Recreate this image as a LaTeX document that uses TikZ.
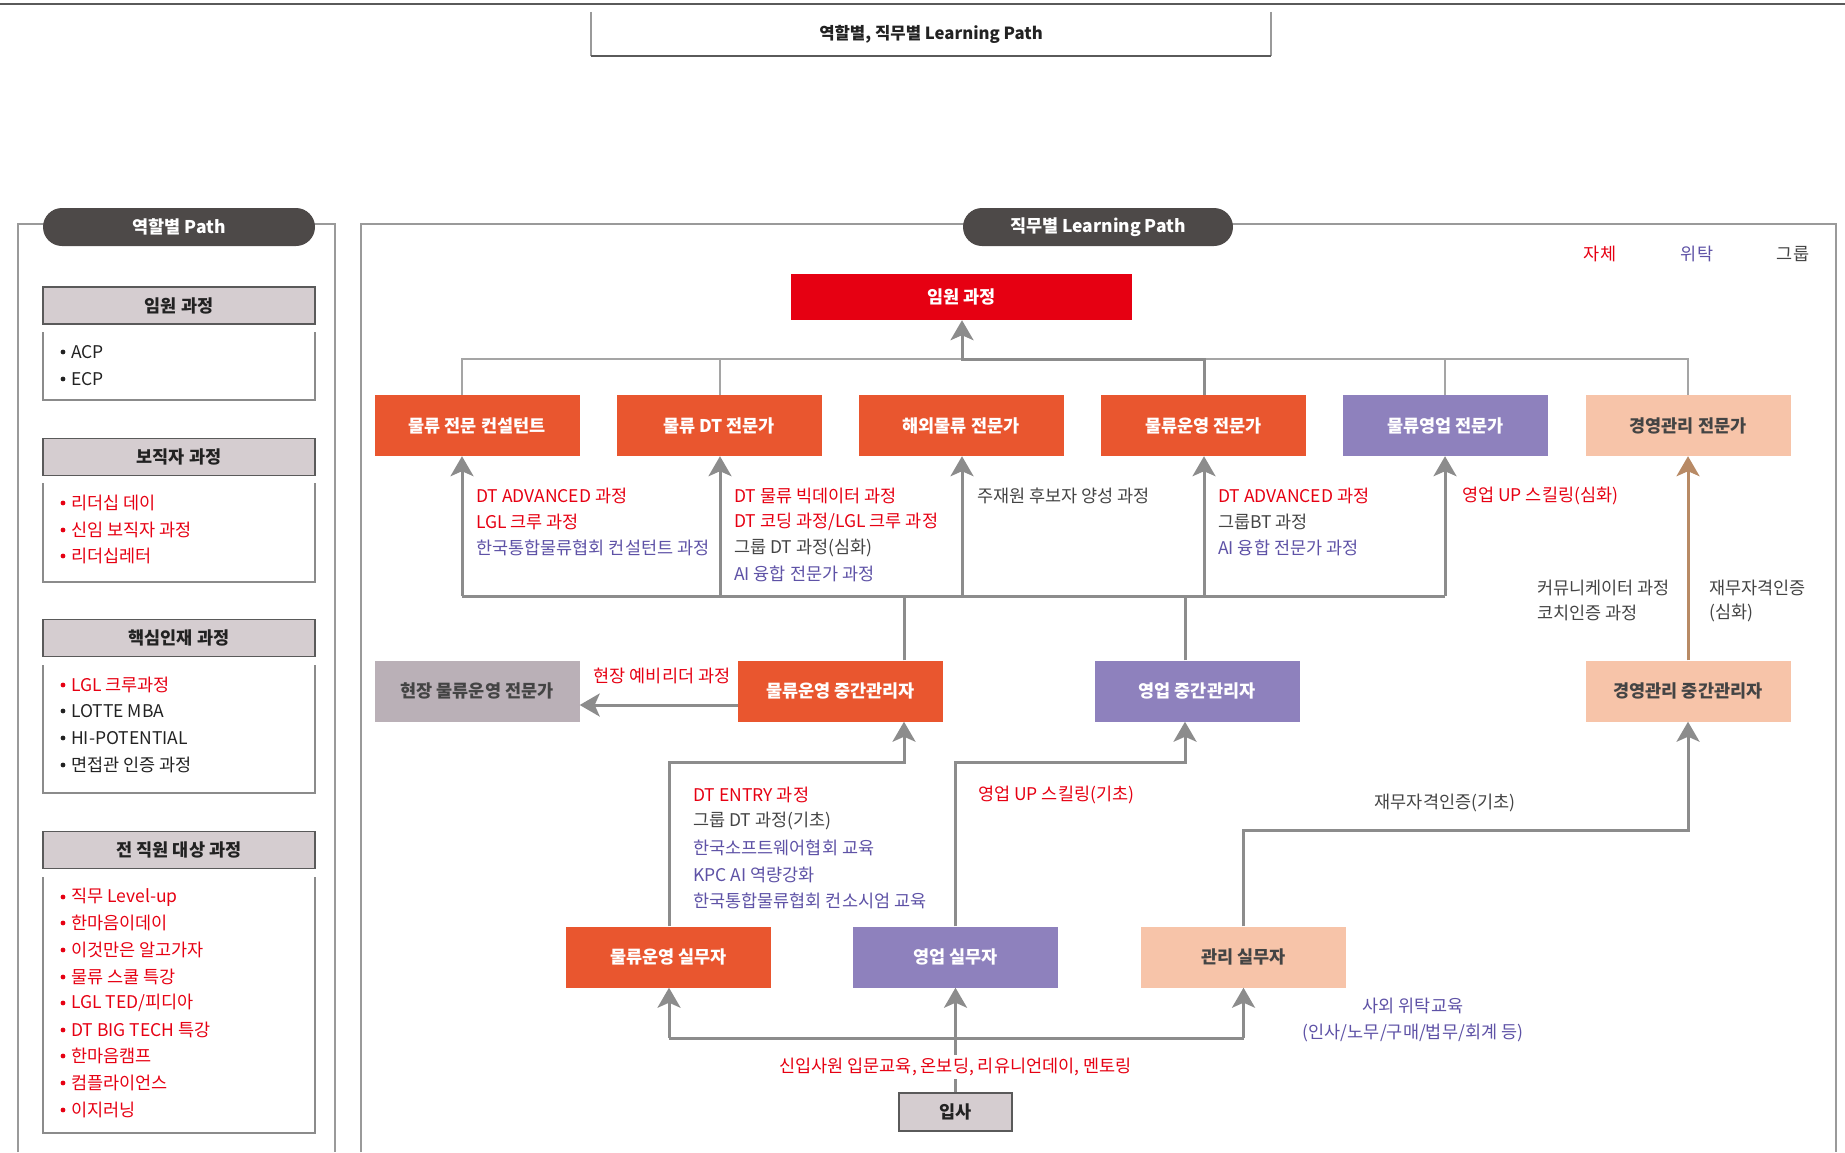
\documentclass[tikz,border=0pt]{standalone}
\usepackage{fontspec}
\setmainfont{Noto Sans CJK KR}
\usetikzlibrary{arrows.meta,calc}
\definecolor{cRed}{HTML}{E60012}
\definecolor{cOra}{HTML}{E9562F}
\definecolor{cPur}{HTML}{8E81BD}
\definecolor{cPea}{HTML}{F7C4A9}
\definecolor{cGbx}{HTML}{BAB0B7}
\definecolor{cHdr}{HTML}{D5CDD0}
\definecolor{cArr}{HTML}{8C8C8C}
\definecolor{cThn}{HTML}{A5A5A5}
\definecolor{cBrn}{HTML}{B88A65}
\definecolor{cPill}{HTML}{4D4948}
\definecolor{tRed}{HTML}{E60012}
\definecolor{tPur}{HTML}{5E52A6}
\definecolor{tGry}{HTML}{444444}
\definecolor{tBlk}{HTML}{222222}
\definecolor{cFrm}{HTML}{9A9A9A}
\definecolor{cDark}{HTML}{5A5A5A}
\newcommand\myBold{\fontsize{17.5}{20}\selectfont\bfseries}
\newcommand\myTitle{\fontsize{16.7}{20}\selectfont\bfseries}
\newcommand\myReg{\fontsize{17.5}{20}\selectfont}
\newcommand\myItem{\fontsize{17.5}{20}\selectfont}
\begin{document}
\begin{tikzpicture}[x=1pt,y=-1pt,
  bx/.style={minimum width=205pt, minimum height=61pt, inner sep=0pt, font=\myBold, text=white},
  bo/.style={bx, fill=cOra},
  bp/.style={bx, fill=cPur},
  bk/.style={bx, fill=cPea, text=tGry},
  lb/.style={anchor=west, inner sep=0pt, font=\myReg},
  lc/.style={inner sep=0pt, font=\myReg},
  it/.style={anchor=west, inner sep=0pt, font=\myItem},
  hd/.style={draw=cDark, line width=1.3pt, fill=cHdr, minimum width=272pt, minimum height=37pt, inner sep=0pt, font=\myBold, text=tBlk},
  cfr/.style={draw=cFrm!90!black, line width=1.3pt},
  frm/.style={draw=cFrm, line width=1.5pt},
  pill/.style={fill=cPill, rounded corners=19pt, minimum height=38pt, inner sep=0pt, text=white, font=\myBold},
  ln/.style={draw=cArr, line width=3pt},
  thn/.style={draw=cThn, line width=1.8pt},
  arr/.style={draw=cArr, line width=3pt, -{Stealth[length=20pt,width=23pt,inset=5pt]}},
  arrB/.style={draw=cBrn, line width=3pt, -{Stealth[length=20pt,width=23pt,inset=5pt]}}
]
\useasboundingbox (0,0) rectangle (1845,1152);

% top rule and title
\draw[line width=2pt, draw=cDark] (0,4) -- (1845,4);
\node[minimum width=680pt, minimum height=44pt, inner sep=0pt, font=\myTitle, text=tBlk] (title) at (931,34) {역할별, 직무별 Learning Path};
\draw[line width=1.5pt, draw=cFrm] (title.north west) -- (title.south west);
\draw[line width=1.5pt, draw=cFrm] (title.north east) -- (title.south east);
\draw[line width=2pt, draw=cDark] (title.south west) -- (title.south east);

% frames
\draw[frm] (18,1152) -- (18,224) -- (335,224) -- (335,1152);
\draw[frm] (361,1152) -- (361,224) -- (1836,224) -- (1836,1152);
\node[pill, minimum width=272pt] (p1) at (179,227) {역할별 Path};
\node[pill, minimum width=270pt] (p2) at (1098,227) {직무별 Learning Path};

% legend
\node[lc, text=tRed] (lg1) at (1600,254) {자체};
\node[lc, text=tPur] (lg2) at (1697,254) {위탁};
\node[lc, text=tGry] (lg3) at (1793,254) {그룹};

% ---------- left panel ----------
\node[hd] (h1) at (179,305.5) {임원 과정};
\draw[cfr] (43,332) -- (43,400) -- (315,400) -- (315,332);
\fill[tBlk] (63,352) circle (2.4pt); \node[it, text=tBlk] (i11) at (71,352) {ACP};
\fill[tBlk] (63,379) circle (2.4pt); \node[it, text=tBlk] (i12) at (71,379) {ECP};

\node[hd] (h2) at (179,457) {보직자 과정};
\draw[cfr] (43,483) -- (43,582) -- (315,582) -- (315,483);
\fill[tRed] (63,503) circle (2.4pt); \node[it, text=tRed] (i21) at (71,503) {리더십 데이};
\fill[tRed] (63,530) circle (2.4pt); \node[it, text=tRed] (i22) at (71,530) {신임 보직자 과정};
\fill[tRed] (63,556) circle (2.4pt); \node[it, text=tRed] (i23) at (71,556) {리더십레터};

\node[hd] (h3) at (179,638) {핵심인재 과정};
\draw[cfr] (43,665) -- (43,793) -- (315,793) -- (315,665);
\fill[tRed] (63,685) circle (2.4pt); \node[it, text=tRed] (i31) at (71,685) {LGL 크루과정};
\fill[tBlk] (63,711) circle (2.4pt); \node[it, text=tBlk] (i32) at (71,711) {LOTTE MBA};
\fill[tBlk] (63,738) circle (2.4pt); \node[it, text=tBlk] (i33) at (71,738) {HI-POTENTIAL};
\fill[tBlk] (63,765) circle (2.4pt); \node[it, text=tBlk] (i34) at (71,765) {면접관 인증 과정};

\node[hd] (h4) at (179,850) {전 직원 대상 과정};
\draw[cfr] (43,877) -- (43,1133) -- (315,1133) -- (315,877);
\fill[tRed] (63,897) circle (2.4pt); \node[it, text=tRed] (i41) at (71,897) {직무 Level-up};
\fill[tRed] (63,923) circle (2.4pt); \node[it, text=tRed] (i42) at (71,923) {한마음이데이};
\fill[tRed] (63,950) circle (2.4pt); \node[it, text=tRed] (i43) at (71,950) {이것만은 알고가자};
\fill[tRed] (63,977) circle (2.4pt); \node[it, text=tRed] (i44) at (71,977) {물류 스쿨 특강};
\fill[tRed] (63,1003) circle (2.4pt); \node[it, text=tRed] (i45) at (71,1003) {LGL TED/피디아};
\fill[tRed] (63,1030) circle (2.4pt); \node[it, text=tRed] (i46) at (71,1030) {DT BIG TECH 특강};
\fill[tRed] (63,1056) circle (2.4pt); \node[it, text=tRed] (i47) at (71,1056) {한마음캠프};
\fill[tRed] (63,1083) circle (2.4pt); \node[it, text=tRed] (i48) at (71,1083) {컴플라이언스};
\fill[tRed] (63,1110) circle (2.4pt); \node[it, text=tRed] (i49) at (71,1110) {이지러닝};

% ---------- right panel nodes ----------
\node[fill=cRed, minimum width=341pt, minimum height=46pt, inner sep=0pt, text=white, font=\myBold] (exec) at (961.5,297) {임원 과정};

\node[bo] (e1) at (477,425.5) {물류 전문 컨설턴트};
\node[bo] (e2) at (719,425.5) {물류 DT 전문가};
\node[bo] (e3) at (961,425.5) {해외물류 전문가};
\node[bo] (e4) at (1203.5,425.5) {물류운영 전문가};
\node[bp] (e5) at (1445.5,425.5) {물류영업 전문가};
\node[bk] (e6) at (1688,425.5) {경영관리 전문가};

\node[bx, fill=cGbx, text=tGry] (m0) at (477,691) {현장 물류운영 전문가};
\node[bo] (m1) at (840.5,691) {물류운영 중간관리자};
\node[bp] (m2) at (1197,691) {영업 중간관리자};
\node[bk] (m3) at (1688,691) {경영관리 중간관리자};

\node[bo] (b1) at (668.5,957) {물류운영 실무자};
\node[bp] (b2) at (955.5,957) {영업 실무자};
\node[bk] (b3) at (1243.5,957) {관리 실무자};
\node[draw=cDark, line width=1.5pt, fill=cHdr, minimum width=113pt, minimum height=38pt, inner sep=0pt, font=\myBold, text=tBlk] (ip) at (955.5,1112) {입사};

% ---------- connectors ----------
\coordinate (t1) at (462,359); \coordinate (t2) at (720,359); \coordinate (t3) at (962,359);
\coordinate (t4) at (1204,359); \coordinate (t5) at (1445,359); \coordinate (t6) at (1688,359);
\draw[thn] (e1.north -| t1) -- (t1) -- (t6) -- (e6.north -| t6);
\draw[thn] (e2.north -| t2) -- (t2);
\draw[thn] (e5.north -| t5) -- (t5);
\draw[arr] (e4.north -| t4) -- (t4) -- (t3) -- (exec.south -| t3);

\coordinate (u1) at (462,596); \coordinate (u2) at (720,596); \coordinate (u3) at (962,596); \coordinate (uj) at (904,596);
\coordinate (v4) at (1204,596); \coordinate (v5) at (1445,596); \coordinate (vj) at (1185,596);
\draw[ln] (u1) -- (v5);
\draw[ln] (m1.north -| uj) -- (uj);
\draw[ln] (m2.north -| vj) -- (vj);
\draw[arr] (u1) -- (e1.south -| u1);
\draw[arr] (u2) -- (e2.south -| u2);
\draw[arr] (u3) -- (e3.south -| u3);
\draw[arr] (v4) -- (e4.south -| v4);
\draw[arr] (v5) -- (e5.south -| v5);

\draw[arrB] (m3.north -| t6) -- (e6.south -| t6);

\coordinate (hL) at (0,705);
\draw[arr] (m1.west |- hL) -- (m0.east |- hL);

\coordinate (w1) at (669,762); \coordinate (w2) at (904,762);
\draw[arr] (b1.north -| w1) -- (w1) -- (w2) -- (m1.south -| w2);
\coordinate (w3) at (955.5,762); \coordinate (w4) at (1185,762);
\draw[arr] (b2.north) -- (w3) -- (w4) -- (m2.south -| w4);
\coordinate (w5) at (1243.5,830); \coordinate (w6) at (1688,830);
\draw[arr] (b3.north) -- (w5) -- (w6) -- (m3.south -| w6);

\coordinate (z1) at (669,1038); \coordinate (z2) at (955.5,1038); \coordinate (z3) at (1243.5,1038);
\draw[ln] (ip.north) -- (z2);
\draw[ln] (z1) -- (z3);
\draw[arr] (z1) -- (b1.south -| z1);
\draw[arr] (z2) -- (b2.south);
\draw[arr] (z3) -- (b3.south);

% ---------- labels ----------
\node[lb, text=tRed] (l11) at (476,496) {DT ADVANCED 과정};
\node[lb, text=tRed] (l12) at (476,522) {LGL 크루 과정};
\node[lb, text=tPur] (l13) at (476,548) {한국통합물류협회 컨설턴트 과정};

\node[lb, text=tRed] (l21) at (734,496) {DT 물류 빅데이터 과정};
\node[lb, text=tRed] (l22) at (734,522) {DT 코딩 과정/LGL 크루 과정};
\node[lb, text=tGry] (l23) at (734,548) {그룹 DT 과정(심화)};
\node[lb, text=tPur] (l24) at (734,574) {AI 융합 전문가 과정};

\node[lb, text=tGry] (l31) at (977,496) {주재원 후보자 양성 과정};

\node[lb, text=tRed] (l41) at (1218,496) {DT ADVANCED 과정};
\node[lb, text=tGry] (l42) at (1218,522) {그룹BT 과정};
\node[lb, text=tPur] (l43) at (1218,548) {AI 융합 전문가 과정};

\node[lb, text=tRed] (l51) at (1462,496) {영업 UP 스킬링(심화)};

\node[lb, text=tGry] (l61) at (1537,588) {커뮤니케이터 과정};
\node[lb, text=tGry] (l62) at (1537,613) {코치인증 과정};
\node[lb, text=tGry] (l63) at (1709,588) {재무자격인증};
\node[lb, text=tGry] (l64) at (1709,613) {(심화)};

\node[lc, text=tRed] (lm0) at (662,676) {현장 예비리더 과정};

\node[lb, text=tRed] (lb1) at (693,795) {DT ENTRY 과정};
\node[lb, text=tGry] (lb2) at (693,821) {그룹 DT 과정(기초)};
\node[lb, text=tPur] (lb3) at (693,848) {한국소프트웨어협회 교육};
\node[lb, text=tPur] (lb4) at (693,875) {KPC AI 역량강화};
\node[lb, text=tPur] (lb5) at (693,901) {한국통합물류협회 컨소시엄 교육};

\node[lb, text=tRed] (lb6) at (978,795) {영업 UP 스킬링(기초)};
\node[lc, text=tGry] (lb7) at (1445,803) {재무자격인증(기초)};

\node[lc, text=tPur] (lb8) at (1413,1006) {사외 위탁교육};
\node[lc, text=tPur] (lb9) at (1413,1033) {(인사/노무/구매/법무/회계 등)};

\node[lc, text=tRed, fill=white, inner sep=3pt] (lb10) at (955.5,1067) {신입사원 입문교육, 온보딩, 리유니언데이, 멘토링};
\end{tikzpicture}
\end{document}
